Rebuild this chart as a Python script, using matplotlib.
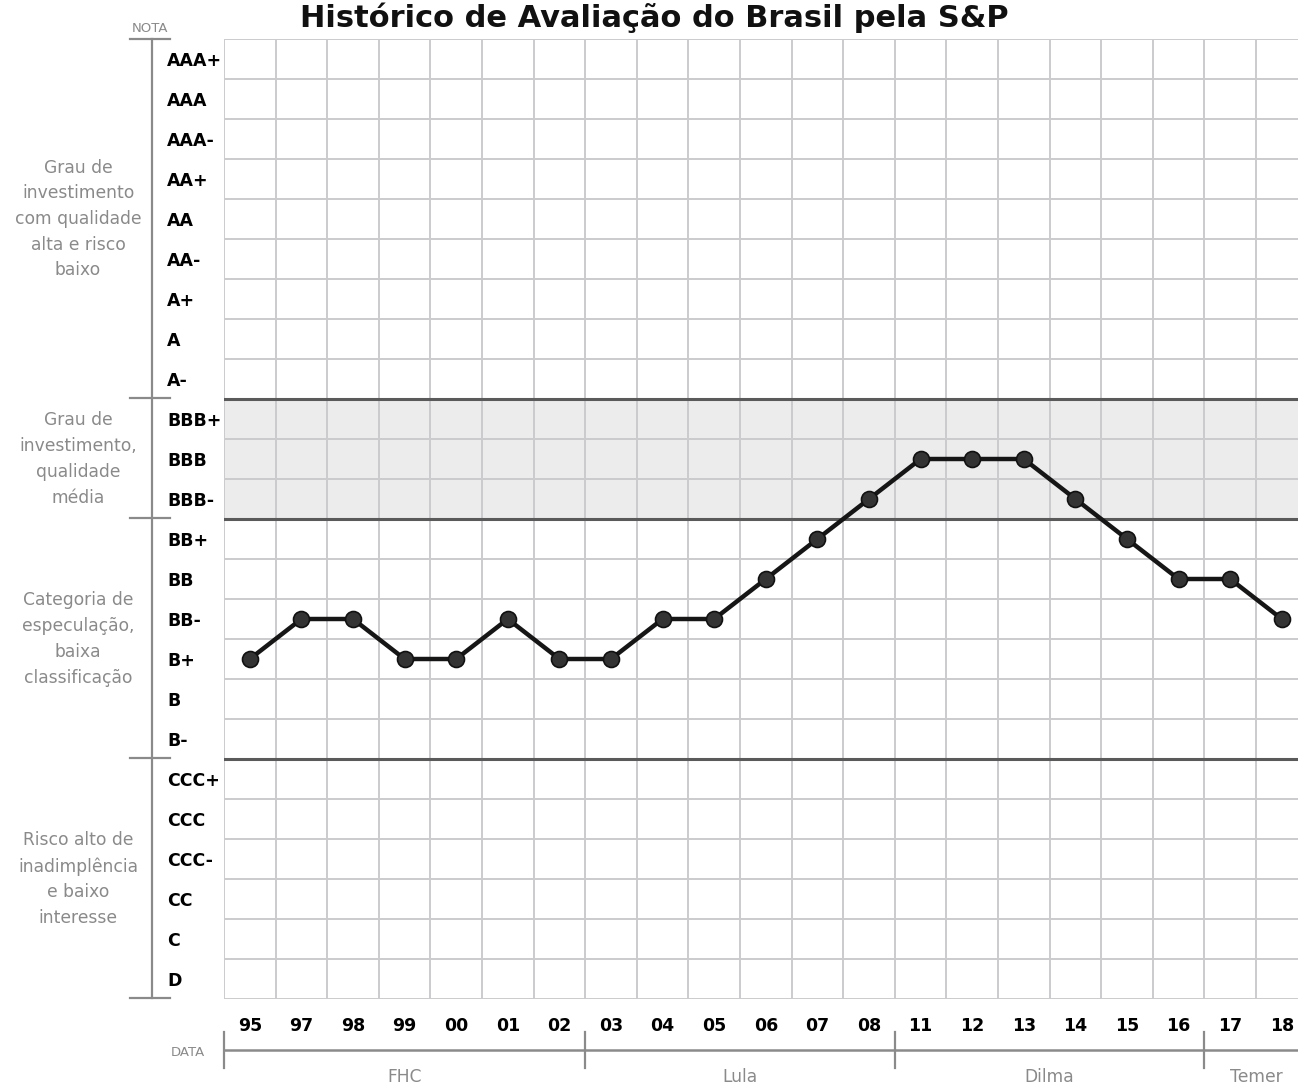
import matplotlib
matplotlib.use("Agg")
import matplotlib.pyplot as plt
from matplotlib.transforms import blended_transform_factory
from matplotlib.lines import Line2D

W, H = 1298, 1087
DPI = 100

title = "Histórico de Avaliação do Brasil pela S&P"
ratings = ["AAA+", "AAA", "AAA-", "AA+", "AA", "AA-", "A+", "A", "A-",
           "BBB+", "BBB", "BBB-", "BB+", "BB", "BB-", "B+", "B", "B-",
           "CCC+", "CCC", "CCC-", "CC", "C", "D"]
years = ["95", "97", "98", "99", "00", "01", "02", "03", "04", "05", "06",
         "07", "08", "11", "12", "13", "14", "15", "16", "17", "18"]
scores = ["B+", "BB-", "BB-", "B+", "B+", "BB-", "B+", "B+", "BB-", "BB-", "BB",
          "BB+", "BBB-", "BBB", "BBB", "BBB", "BBB-", "BB+", "BB", "BB", "BB-"]
groups = ["Grau de\ninvestimento\ncom qualidade\nalta e risco\nbaixo",
          "Grau de\ninvestimento,\nqualidade\nmédia",
          "Categoria de\nespeculação,\nbaixa\nclassificação",
          "Risco alto de\ninadimplência\ne baixo\ninteresse"]
group_ranges = [("AAA+", "A-"), ("BBB+", "BBB-"), ("BB+", "B-"), ("CCC+", "D")]
periods = ["FHC", "Lula", "Dilma", "Temer"]
period_ranges = [("95", "02"), ("03", "08"), ("11", "16"), ("17", "18")]

n = len(ratings)
ypos = {r: n - 1 - i for i, r in enumerate(ratings)}   # top rating highest
xpos = {y: i for i, y in enumerate(years)}

fig = plt.figure(figsize=(W / DPI, H / DPI), dpi=DPI)

def fx(px):
    return px / W

def fy(py):
    return 1 - py / H

# axes area in pixels
left, right, top, bottom = 224, 224 + 21 * 51.6, 39, 999
ax = fig.add_axes([fx(left), fy(bottom), fx(right - left), (bottom - top) / H])
ax.set_xlim(-0.5, len(years) - 0.5)
ax.set_ylim(-0.5, n - 0.5)

grid_c = "#cbcbcd"
dark_c = "#5a5a5a"
gray_txt = "#8a8a8a"

# shaded band for BBB
ax.axhspan(ypos["BBB-"] - 0.5, ypos["BBB+"] + 0.5, color="#ececec", zorder=0)

for k in range(n + 1):
    ax.axhline(k - 0.5, color=grid_c, lw=1.4, zorder=1)
for k in range(len(years) + 1):
    ax.axvline(k - 0.5, color=grid_c, lw=1.4, zorder=1)

for r in ["A-", "BBB-", "B-"]:
    ax.axhline(ypos[r] - 0.5, color=dark_c, lw=2.2, zorder=2)

for s in ax.spines.values():
    s.set_visible(False)

ax.set_yticks([ypos[r] for r in ratings])
ax.set_yticklabels(ratings, fontsize=12.5, fontweight="bold", ha="left")
ax.tick_params(axis="y", length=0, pad=41)

ax.set_xticks(range(len(years)))
ax.set_xticklabels(years, fontsize=12.5, fontweight="bold")
ax.tick_params(axis="x", length=0, pad=13)

# data line
xs = [xpos[y] for y in years]
ys = [ypos[s] for s in scores]
ax.plot(xs, ys, color="#161616", lw=3.2, zorder=5, solid_joinstyle="round",
        marker="o", markersize=11.5, markerfacecolor="#333333",
        markeredgecolor="#111111", markeredgewidth=1.2, clip_on=False)

# left axis bracket
fig.add_artist(Line2D([fx(152), fx(152)], [fy(39), fy(998)], color=gray_txt, lw=1.6))
for ty in [39, 398, 518, 758, 998]:
    fig.add_artist(Line2D([fx(130), fx(170)], [fy(ty), fy(ty)], color=gray_txt, lw=1.6))
fig.text(fx(150), fy(28), "NOTA", fontsize=9.5, color=gray_txt, ha="center", va="center")

# group labels
trY = blended_transform_factory(fig.transFigure, ax.transData)
for g, (a, b) in zip(groups, group_ranges):
    yc = (ypos[a] + ypos[b]) / 2
    fig.text(fx(78), yc, g, transform=trY, fontsize=12.3, color=gray_txt,
             ha="center", va="center", linespacing=1.55)

# bottom bracket
trX = blended_transform_factory(ax.transData, fig.transFigure)
ax.plot([-0.5, len(years) - 0.5], [fy(1050), fy(1050)], transform=trX,
        color=gray_txt, lw=1.8, clip_on=False)
for (a, b) in period_ranges:
    x0 = xpos[a] - 0.5
    ax.plot([x0, x0], [fy(1032), fy(1068)], transform=trX, color=gray_txt,
            lw=1.6, clip_on=False)
for p, (a, b) in zip(periods, period_ranges):
    xc = (xpos[a] + xpos[b]) / 2
    ax.text(xc, fy(1077), p, transform=trX, fontsize=12.3, color=gray_txt,
            ha="center", va="center")
fig.text(fx(188), fy(1053), "DATA", fontsize=9.5, color=gray_txt, ha="center", va="center")

fig.text(fx(654), fy(27), title, fontsize=22, fontweight="bold", ha="center",
         va="baseline", color="#111111")

fig.savefig("out.png", dpi=DPI)
